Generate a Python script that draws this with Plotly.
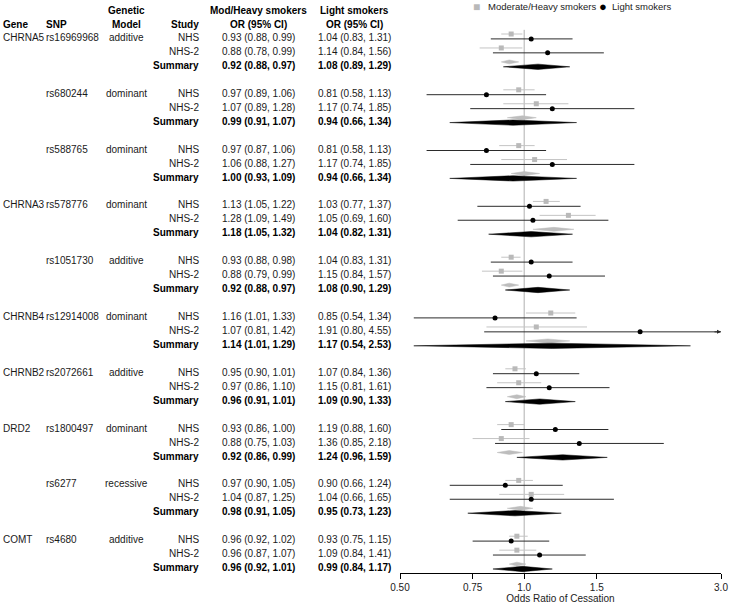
import numpy as np
import plotly.graph_objects as go

# ---------------- data ----------------
genes = ['CHRNA5', '', '', 'CHRNA3', '', 'CHRNB4', 'CHRNB2', 'DRD2', '', 'COMT']
snps = ['rs16969968', 'rs680244', 'rs588765', 'rs578776', 'rs1051730',
        'rs12914008', 'rs2072661', 'rs1800497', 'rs6277', 'rs4680']
models = ['additive', 'dominant', 'dominant', 'dominant', 'additive',
          'dominant', 'additive', 'dominant', 'recessive', 'additive']
studies = ['NHS', 'NHS-2', 'Summary']
series_names = ['Moderate/Heavy smokers', 'Light smokers']

# Moderate/Heavy smokers: per SNP -> NHS, NHS-2, Summary
mod_or = [0.93, 0.88, 0.92, 0.97, 1.07, 0.99, 0.97, 1.06, 1.00, 1.13, 1.28, 1.18,
          0.93, 0.88, 0.92, 1.16, 1.07, 1.14, 0.95, 0.97, 0.96, 0.93, 0.88, 0.92,
          0.97, 1.04, 0.98, 0.96, 0.96, 0.96]
mod_lo = [0.88, 0.78, 0.88, 0.89, 0.89, 0.91, 0.87, 0.88, 0.93, 1.05, 1.09, 1.05,
          0.88, 0.79, 0.88, 1.01, 0.81, 1.01, 0.90, 0.86, 0.91, 0.86, 0.75, 0.86,
          0.90, 0.87, 0.91, 0.92, 0.87, 0.92]
mod_hi = [0.99, 0.99, 0.97, 1.06, 1.28, 1.07, 1.06, 1.27, 1.09, 1.22, 1.49, 1.32,
          0.98, 0.99, 0.97, 1.33, 1.42, 1.29, 1.01, 1.10, 1.01, 1.00, 1.03, 0.99,
          1.05, 1.25, 1.05, 1.02, 1.07, 1.01]

# Light smokers
light_or = [1.04, 1.14, 1.08, 0.81, 1.17, 0.94, 0.81, 1.17, 0.94, 1.03, 1.05, 1.04,
            1.04, 1.15, 1.08, 0.85, 1.91, 1.17, 1.07, 1.15, 1.09, 1.19, 1.36, 1.24,
            0.90, 1.04, 0.95, 0.93, 1.09, 0.99]
light_lo = [0.83, 0.84, 0.89, 0.58, 0.74, 0.66, 0.58, 0.74, 0.66, 0.77, 0.69, 0.82,
            0.83, 0.84, 0.90, 0.54, 0.80, 0.54, 0.84, 0.81, 0.90, 0.88, 0.85, 0.96,
            0.66, 0.66, 0.73, 0.75, 0.84, 0.84]
light_hi = [1.31, 1.56, 1.29, 1.13, 1.85, 1.34, 1.13, 1.85, 1.34, 1.37, 1.60, 1.31,
            1.31, 1.57, 1.29, 1.34, 4.55, 2.53, 1.36, 1.61, 1.33, 1.60, 2.18, 1.59,
            1.24, 1.65, 1.23, 1.15, 1.41, 1.17]

tick_vals = [0.5, 0.75, 1.0, 1.5, 3.0]
tick_text = ['0.50', '0.75', '1.0', '1.5', '3.0']
x_min, x_max = 0.5, 3.0

# ---------------- styling ----------------
FONT = 'Liberation Sans, Arial, sans-serif'
FS = 10
GRAY_PT = '#b9b9b9'
GRAY_LN = '#c4c4c4'
BLACK_LN = '#2b2b2b'
GRAY_OFF = -0.25
BLACK_OFF = 0.1
H_GRAY = 0.14
H_BLACK = 0.19

W, H = 730, 606
ROW0_PX, ROW_PX = 37.5, 13.95
AXIS_PX = 573
y_top = -ROW0_PX / ROW_PX
y_bot = (AXIS_PX - ROW0_PX) / ROW_PX

n_groups = len(snps)
rows = []
for g in range(n_groups):
    for k in range(3):
        rows.append((g, k, 4 * g + k))

fig = go.Figure()

# reference line at OR = 1
fig.add_trace(go.Scatter(x=[1.0, 1.0], y=[-0.55, y_bot], mode='lines',
                         line=dict(color='#b0b0b0', width=1), showlegend=False,
                         hoverinfo='skip'))

def ci_lines(los, his, off):
    xs, ys = [], []
    for (g, k, y) in rows:
        idx = 3 * g + k
        if k == 2:
            continue
        xs += [max(los[idx], x_min), min(his[idx], x_max), None]
        ys += [y + off, y + off, None]
    return xs, ys

def diamonds(ors, los, his, off, h):
    xs, ys = [], []
    for (g, k, y) in rows:
        idx = 3 * g + k
        if k != 2:
            continue
        yy = y + off
        xs += [los[idx], ors[idx], min(his[idx], x_max), ors[idx], los[idx], None]
        ys += [yy, yy - h, yy, yy + h, yy, None]
    return xs, ys

def points(ors, off):
    xs, ys = [], []
    for (g, k, y) in rows:
        if k == 2:
            continue
        xs.append(ors[3 * g + k])
        ys.append(y + off)
    return xs, ys

# CI lines
gx, gy = ci_lines(mod_lo, mod_hi, GRAY_OFF)
fig.add_trace(go.Scatter(x=gx, y=gy, mode='lines', line=dict(color=GRAY_LN, width=1),
                         showlegend=False, hoverinfo='skip'))
bx, by = ci_lines(light_lo, light_hi, BLACK_OFF)
fig.add_trace(go.Scatter(x=bx, y=by, mode='lines', line=dict(color=BLACK_LN, width=1),
                         showlegend=False, hoverinfo='skip'))

# summary diamonds
dx, dy = diamonds(mod_or, mod_lo, mod_hi, GRAY_OFF, H_GRAY)
fig.add_trace(go.Scatter(x=dx, y=dy, mode='lines', fill='toself', fillcolor='#bdbdbd',
                         line=dict(color='#bdbdbd', width=0.5), showlegend=False,
                         hoverinfo='skip'))
dx, dy = diamonds(light_or, light_lo, light_hi, BLACK_OFF, H_BLACK)
fig.add_trace(go.Scatter(x=dx, y=dy, mode='lines', fill='toself', fillcolor='#000000',
                         line=dict(color='#000000', width=0.5), showlegend=False,
                         hoverinfo='skip'))

# points
px_, py_ = points(mod_or, GRAY_OFF)
fig.add_trace(go.Scatter(x=px_, y=py_, mode='markers', name=series_names[0],
                         marker=dict(symbol='square', size=5, color=GRAY_PT),
                         showlegend=False))
px_, py_ = points(light_or, BLACK_OFF)
fig.add_trace(go.Scatter(x=px_, y=py_, mode='markers', name=series_names[1],
                         marker=dict(symbol='circle', size=5, color='black'),
                         showlegend=False))

annotations = []

# arrows for truncated CIs
for (g, k, y) in rows:
    idx = 3 * g + k
    if k != 2 and light_hi[idx] > x_max:
        annotations.append(dict(x=np.log10(x_max), y=y + BLACK_OFF, xref='x', yref='y',
                                ax=-8, ay=0, text='', showarrow=True, arrowhead=2,
                                arrowsize=0.8, arrowwidth=1, arrowcolor=BLACK_LN,
                                standoff=0))

# legend (key glyphs + labels)
LEG_Y = 1 - 6.5 / H

def leg(x, s, anchor, size, color):
    annotations.append(dict(x=x / W, y=LEG_Y, xref='paper', yref='paper',
                            xanchor=anchor, yanchor='middle', showarrow=False, borderpad=0,
                            text=s, font=dict(family=FONT, size=size, color=color)))

leg(476.5, '■', 'center', 12, GRAY_PT)
leg(487, series_names[0], 'left', 9.5, '#222222')
leg(603, '●', 'center', 13, '#000000')
leg(611, series_names[1], 'left', 9.5, '#222222')

# text table
COL_GENE = 2 / W
COL_SNP = 45 / W
COL_MODEL = 126 / W
COL_STUDY = 200 / W
COL_MOD = 258 / W
COL_LIGHT = 354 / W

def txt(x, y, s, anchor, bold=False, color='#1a1a1a'):
    annotations.append(dict(x=x, y=y, xref='paper', yref='y', text=('<b>%s</b>' % s) if bold else s,
                            showarrow=False, xanchor=anchor, yanchor='middle',
                            font=dict(family=FONT, size=FS, color='black' if bold else color),
                            borderpad=0))

h1 = (10.5 - ROW0_PX) / ROW_PX
h2 = (24 - ROW0_PX) / ROW_PX
txt(COL_GENE, h2, 'Gene', 'left', True)
txt(COL_SNP, h2, 'SNP', 'left', True)
txt(COL_MODEL, h1, 'Genetic', 'center', True)
txt(COL_MODEL, h2, 'Model', 'center', True)
txt(COL_STUDY, h2, 'Study', 'right', True)
txt(COL_MOD, h1, 'Mod/Heavy smokers', 'center', True)
txt(COL_MOD, h2, 'OR (95% CI)', 'center', True)
txt(COL_LIGHT, h1, 'Light smokers', 'center', True)
txt(COL_LIGHT, h2, 'OR (95% CI)', 'center', True)

for (g, k, y) in rows:
    idx = 3 * g + k
    bold = (k == 2)
    if k == 0:
        if genes[g]:
            txt(COL_GENE, y, genes[g], 'left')
        txt(COL_SNP, y, snps[g], 'left')
        txt(COL_MODEL, y, models[g], 'center')
    txt(COL_STUDY, y, studies[k], 'right', bold)
    txt(COL_MOD, y, '%.2f (%.2f, %.2f)' % (mod_or[idx], mod_lo[idx], mod_hi[idx]), 'center', bold)
    txt(COL_LIGHT, y, '%.2f (%.2f, %.2f)' % (light_or[idx], light_lo[idx], light_hi[idx]), 'center', bold)

fig.update_layout(
    width=W, height=H,
    margin=dict(l=0, r=0, t=0, b=0, autoexpand=False),
    plot_bgcolor='white', paper_bgcolor='white',
    font=dict(family=FONT, size=FS, color='#222222'),
    showlegend=False,
    xaxis=dict(type='log', domain=[400 / W, 721 / W],
               range=[np.log10(x_min), np.log10(x_max)],
               tickvals=tick_vals, ticktext=tick_text,
               ticks='outside', ticklen=5, tickcolor='black', tickwidth=1,
               showline=True, linecolor='black', linewidth=1,
               showgrid=False, zeroline=False, automargin=False,
               tickfont=dict(family=FONT, size=FS, color='#222222'),
               title=dict(text='Odds Ratio of Cessation', standoff=1,
                          font=dict(family=FONT, size=FS, color='#222222')),
               anchor='y'),
    yaxis=dict(domain=[(H - AXIS_PX) / H, 1], range=[y_bot, y_top], visible=False,
               showgrid=False, zeroline=False, automargin=False),
    annotations=annotations,
)

fig.write_html('out.html', config={'displayModeBar': False},
               post_script="document.body.style.margin='0px';document.body.style.overflow='hidden';")
